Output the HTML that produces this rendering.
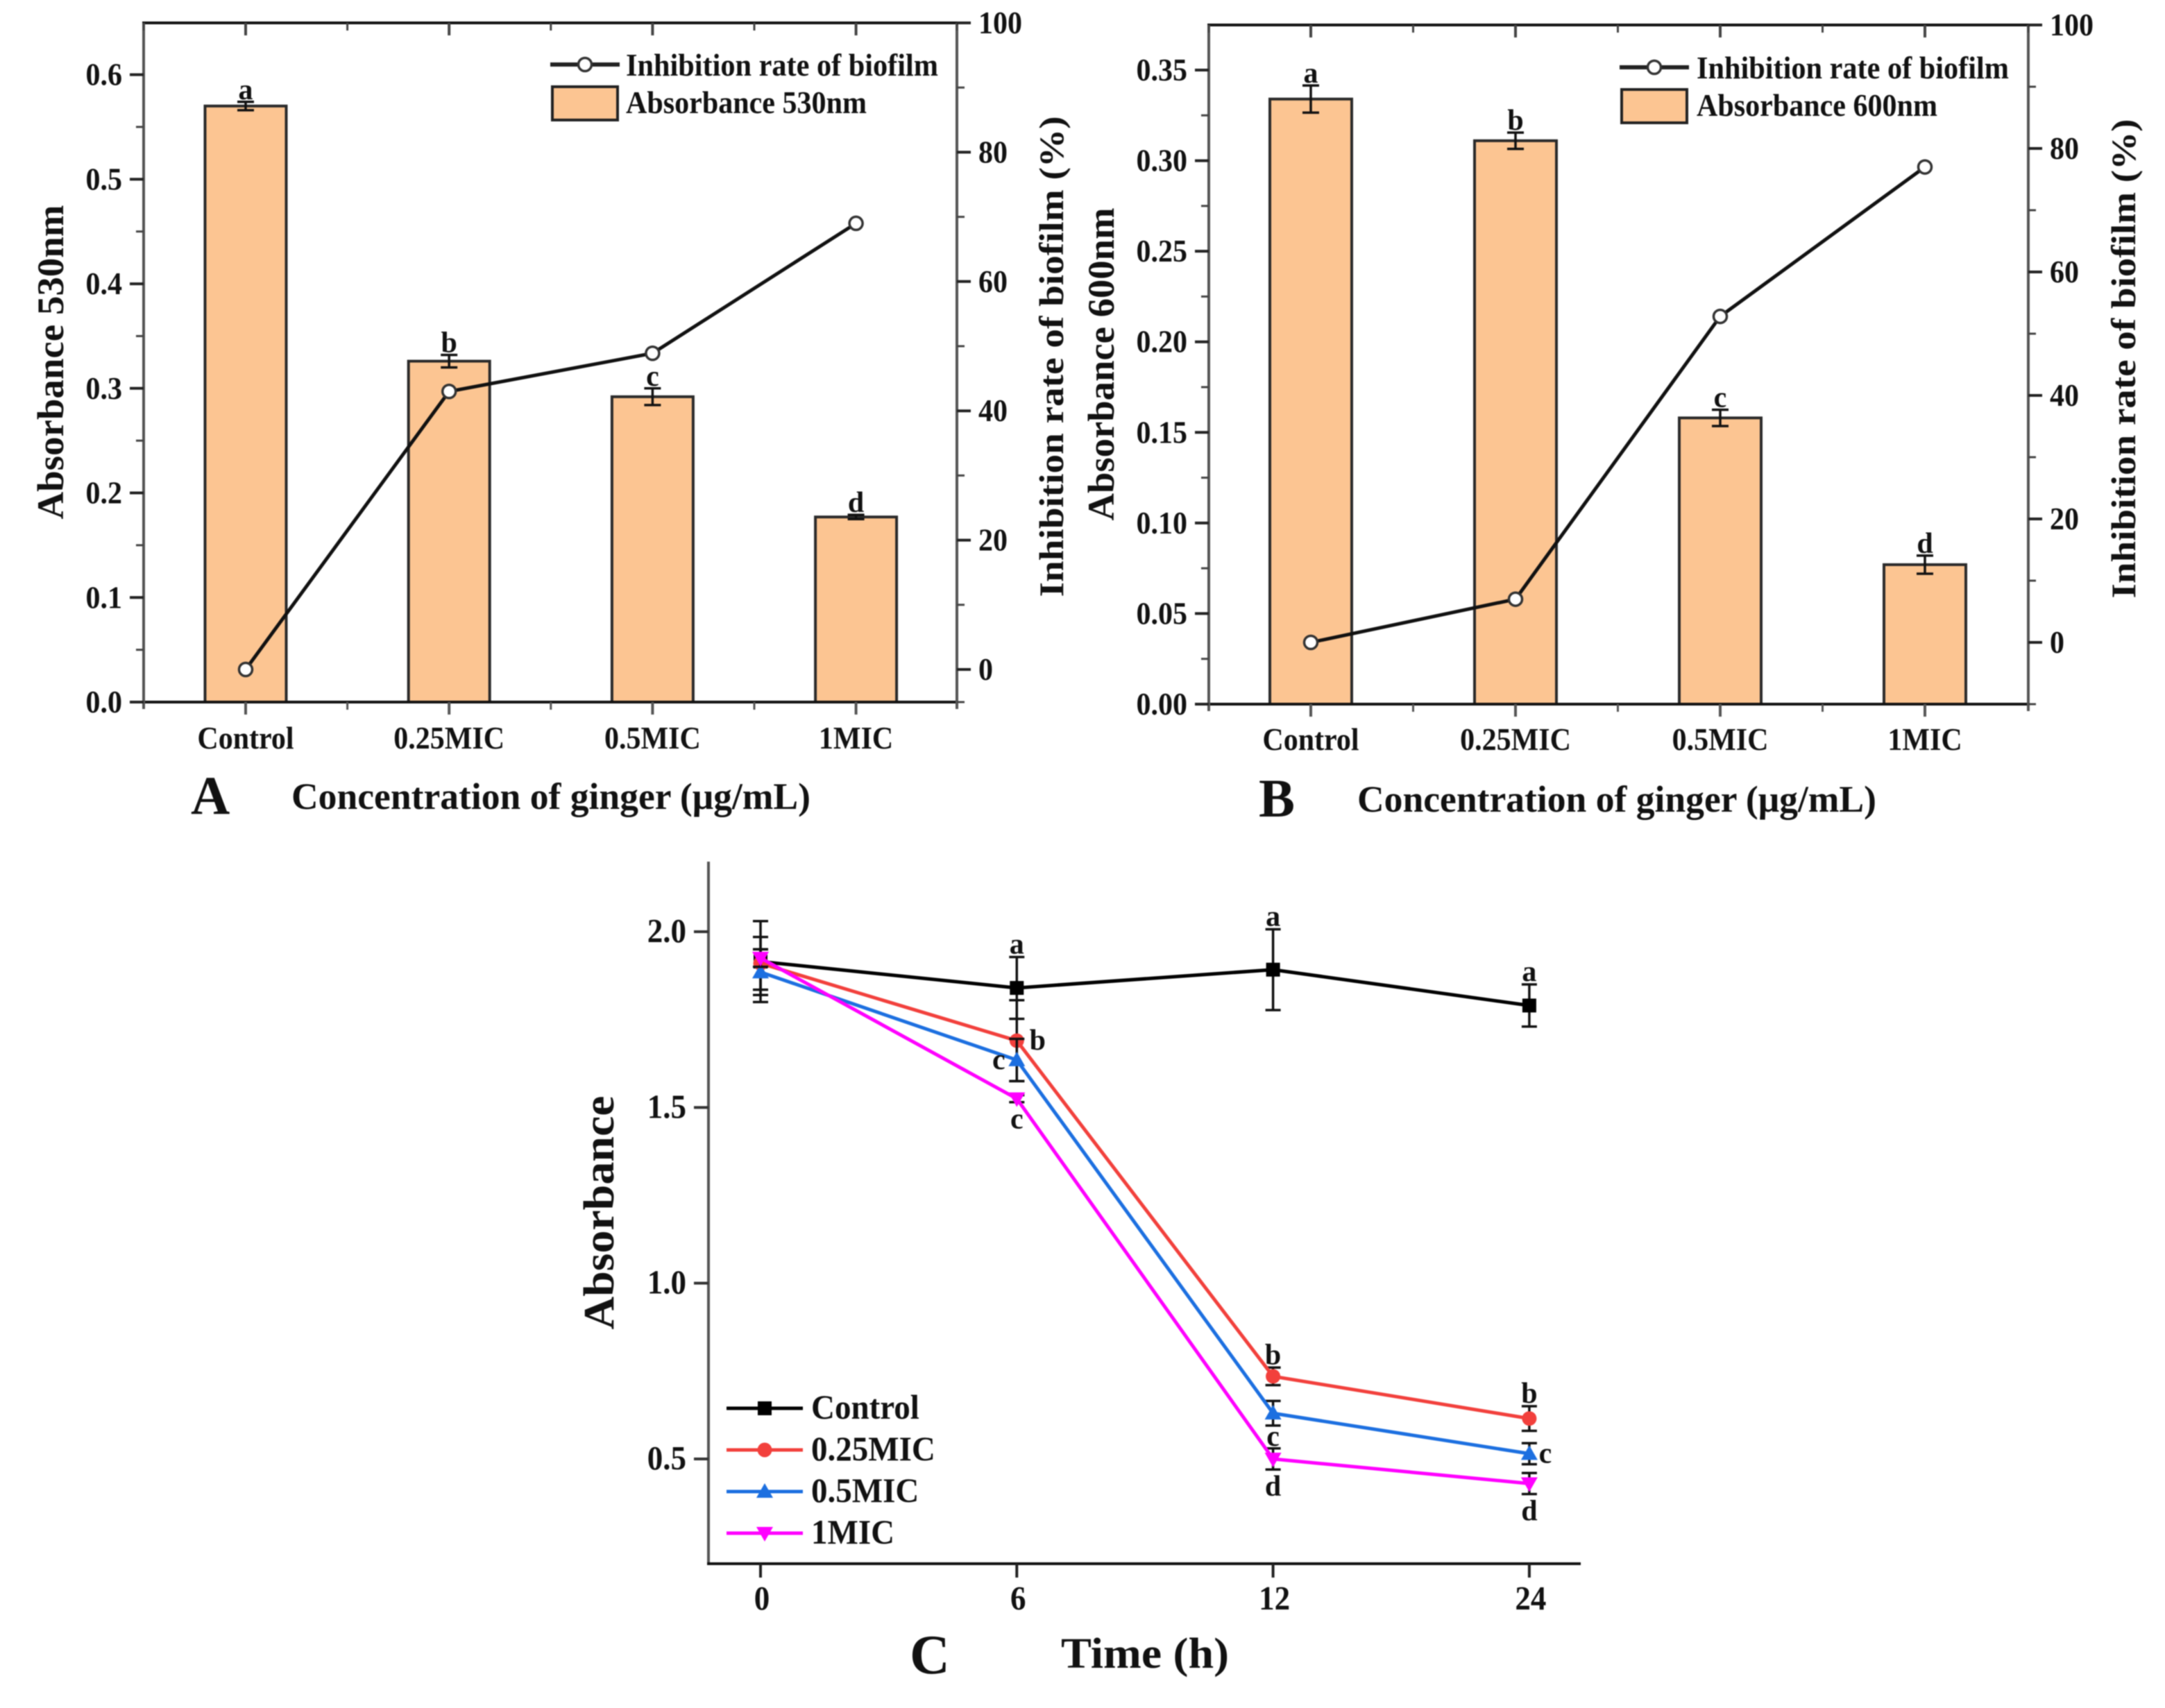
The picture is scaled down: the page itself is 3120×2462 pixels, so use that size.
<!DOCTYPE html>
<html lang="en">
<head>
<meta charset="utf-8">
<title>Ginger biofilm inhibition charts</title>
<style>
html,body{margin:0;padding:0;background:#fff;}
svg{display:block;filter:blur(0.8px);}
text{font-family:"Liberation Serif",serif;font-weight:bold;fill:#111;}
</style>
</head>
<body>
<svg id="figure" xmlns="http://www.w3.org/2000/svg" width="3120" height="2462" viewBox="0 0 3120 2462">
<rect width="3120" height="2462" fill="#fff"/>
</svg>
<script>
const categories = ['Control', '0.25MIC', '0.5MIC', '1MIC'];
const barLetters = ['a', 'b', 'c', 'd'];

const absorbance530 = [0.57, 0.326, 0.292, 0.177];
const absorbance530Err = [0.004, 0.006, 0.008, 0.002];
const inhibitionA = [0, 43, 48.9, 69];
const leftTicksA = ['0.0', '0.1', '0.2', '0.3', '0.4', '0.5', '0.6'];
const rightTicksA = ['0', '20', '40', '60', '80', '100'];

const absorbance600 = [0.334, 0.311, 0.158, 0.077];
const absorbance600Err = [0.0075, 0.0045, 0.0045, 0.005];
const inhibitionB = [0, 7, 52.8, 77];
const leftTicksB = ['0.00', '0.05', '0.10', '0.15', '0.20', '0.25', '0.30', '0.35'];
const rightTicksB = ['0', '20', '40', '60', '80', '100'];

const times = ['0', '6', '12', '24'];
const seriesNames = ['Control', '0.25MIC', '0.5MIC', '1MIC'];
const controlValues = [1.915, 1.84, 1.892, 1.79];
const controlErr = [0.115, 0.088, 0.115, 0.06];
const mic025Values = [1.91, 1.69, 0.735, 0.615];
const mic025Err = [0.075, 0.115, 0.025, 0.035];
const mic05Values = [1.885, 1.635, 0.63, 0.515];
const mic05Err = [0.065, 0.06, 0.035, 0.03];
const mic1Values = [1.925, 1.525, 0.5, 0.43];
const mic1Err = [0.025, 0.01, 0.03, 0.03];
const timeTicks = ['0.5', '1.0', '1.5', '2.0'];
const controlLetters = ['', 'a', 'a', 'a'];
const mic025Letters = ['', 'b', 'b', 'b'];
const mic05Letters = ['', 'c', 'c', 'c'];
const mic1Letters = ['', 'c', 'd', 'd'];
const mic025Sides = ['', 'right', 'top', 'top'];
const mic05Sides = ['', 'left', 'bottom', 'right'];

const svg = document.getElementById('figure');
const NS = 'http://www.w3.org/2000/svg';

function make(parent, tag, attrs, name, txt) {
  const el = document.createElementNS(NS, tag);
  for (const k in attrs) el.setAttribute(k, attrs[k]);
  
  
  if (txt !== undefined) el.textContent = txt;
  parent.appendChild(el);
  return el;
}
function seg(p, x1, y1, x2, y2, color, w, name) {
  return make(p, 'line', {x1, y1, x2, y2, stroke: color, 'stroke-width': w}, name);
}
function label(p, x, y, s, size, anchor, name, len) {
  const a = {x, y, 'font-size': size, 'text-anchor': anchor};
  if (len) { a.textLength = len; a.lengthAdjust = 'spacingAndGlyphs'; }
  return make(p, 'text', a, name, s);
}
// Taller, slightly condensed tick text: keeps the width of baseSize at the height of tallSize.
function tallLabel(p, x, y, s, baseSize, tallSize, anchor, name) {
  const el = label(p, x, y, s, tallSize, anchor, name);
  const w = el.getComputedTextLength();
  el.setAttribute('textLength', w * baseSize / tallSize);
  el.setAttribute('lengthAdjust', 'spacingAndGlyphs');
  return el;
}
function vlabel(p, x, cy, s, size, len, name) {
  return make(p, 'text', {
    x: 0, y: 0, 'font-size': size, 'text-anchor': 'middle',
    textLength: len, lengthAdjust: 'spacingAndGlyphs',
    transform: 'translate(' + x + ' ' + cy + ') rotate(-90)'
  }, name, s);
}
function linear(v0, p0, v1, p1) {
  return v => p0 + (v - v0) * (p1 - p0) / (v1 - v0);
}

function barPanel(o) {
  const g = make(svg, 'g', {}, 'panel-' + o.id);
  const x = i => o.xFirst + i * o.xStep;
  const yL = linear(0, o.bottom, o.lMax, o.lMaxY);
  const yR = linear(0, o.rZeroY, 100, o.top);

  // bars and error bars
  o.bars.forEach((v, i) => {
    make(g, 'rect', {x: x(i) - o.barW / 2, y: yL(v), width: o.barW, height: o.bottom - yL(v), fill: '#FCC592', stroke: '#2a2a2a', 'stroke-width': 4}, 'bar-' + categories[i].toLowerCase());
    const t = yL(v + o.errs[i]), b = yL(v - o.errs[i]);
    seg(g, x(i), t, x(i), b, '#111', 3.5, 'error-bar');
    seg(g, x(i) - 12, t, x(i) + 12, t, '#111', 3.5, 'error-cap-top');
    seg(g, x(i) - 12, b, x(i) + 12, b, '#111', 3.5, 'error-cap-bottom');
    label(g, x(i), t - 4, barLetters[i], 42, 'middle', 'significance-letter');
  });

  // axes
  seg(g, o.left - 2, o.bottom, o.right + 2, o.bottom, '#111', 4, 'x-axis-bottom');
  seg(g, o.left - 2, o.top, o.right + 2, o.top, '#111', 4, 'x-axis-top');
  seg(g, o.left, o.top, o.left, o.bottom + 10, '#555', 4, 'y-axis-left');
  seg(g, o.right, o.top, o.right, o.bottom + 10, '#555', 4, 'y-axis-right');

  // x ticks
  for (let i = 0; i < categories.length; i++) {
    seg(g, x(i), o.bottom, x(i), o.bottom + 18, '#555', 4, 'x-tick');
    seg(g, x(i), o.top, x(i), o.top + 18, '#444', 4, 'x-tick-top');
    tallLabel(g, x(i), o.catBase, categories[i], 42, 46, 'middle', 'x-tick-label');
    if (i < categories.length - 1) {
      seg(g, x(i) + o.xStep / 2, o.bottom, x(i) + o.xStep / 2, o.bottom + 11, '#555', 3, 'x-minor-tick');
      seg(g, x(i) + o.xStep / 2, o.top, x(i) + o.xStep / 2, o.top + 11, '#444', 3, 'x-minor-tick-top');
    }
  }
  seg(g, o.left, o.top, o.left, o.top + 11, '#444', 3, 'x-minor-tick-top');
  seg(g, o.right, o.top, o.right, o.top + 11, '#444', 3, 'x-minor-tick-top');

  // left ticks
  o.lTicks.forEach(t => {
    const v = parseFloat(t);
    seg(g, o.left - 20, yL(v), o.left, yL(v), '#222', 4, 'y-left-tick');
    tallLabel(g, o.left - 31, yL(v) + 15, t, 42, 46, 'end', 'y-left-tick-label');
    const mv = v + o.lMinor;
    if (mv < o.lMax + o.lMinor) seg(g, o.left - 11, yL(mv), o.left, yL(mv), '#444', 3, 'y-left-minor-tick');
  });

  // right ticks
  o.rTicks.forEach(t => {
    const v = parseFloat(t);
    seg(g, o.right, yR(v), o.right + 20, yR(v), '#222', 4, 'y-right-tick');
    tallLabel(g, o.right + 31, yR(v) + 15, t, 42, 46, 'start', 'y-right-tick-label');
    if (v < 100) seg(g, o.right, yR(v + 10), o.right + 11, yR(v + 10), '#444', 3, 'y-right-minor-tick');
  });
  seg(g, o.right, o.bottom, o.right + 11, o.bottom, '#444', 3, 'y-right-minor-tick');

  // inhibition line
  const pts = o.line.map((v, i) => x(i) + ',' + yR(v)).join(' ');
  make(g, 'polyline', {points: pts, fill: 'none', stroke: '#111', 'stroke-width': 5}, 'inhibition-line');
  o.line.forEach((v, i) => {
    make(g, 'circle', {cx: x(i), cy: yR(v), r: 9.5, fill: '#fff', stroke: '#333', 'stroke-width': 3.5}, 'inhibition-point');
  });

  // legend
  seg(g, o.legX - 3, o.legLineY, o.legX + 97, o.legLineY, '#222', 6, 'legend-line-sample');
  make(g, 'circle', {cx: o.legX + 47, cy: o.legLineY, r: 9.5, fill: '#fff', stroke: '#333', 'stroke-width': 3.5}, 'legend-marker');
  label(g, o.legTextX, o.legLineY + 16, 'Inhibition rate of biofilm', 46, 'start', 'legend-entry-inhibition', 450);
  make(g, 'rect', {x: o.legX, y: o.legLineY + 32, width: 94, height: 48, fill: '#FCC592', stroke: '#222', 'stroke-width': 4}, 'legend-swatch');
  label(g, o.legTextX, o.legLineY + 70, o.barName, 46, 'start', 'legend-entry-absorbance', 347);

  // titles
  vlabel(g, o.lTitleX, o.lTitleY, o.barName, 54, o.lTitleLen, 'y-axis-title-left');
  vlabel(g, o.rTitleX, o.rTitleY, 'Inhibition rate of biofilm (%)', 50, o.rTitleLen, 'y-axis-title-right');
  label(g, o.xTitleX, o.xTitleBase, 'Concentration of ginger (\u03bcg/mL)', 54, 'start', 'x-axis-title', 748);
  label(g, o.tagX, o.tagBase, o.id.toUpperCase(), 78, 'start', 'panel-label');
}

barPanel({
  id: 'a', barName: 'Absorbance 530nm', bars: absorbance530, errs: absorbance530Err, line: inhibitionA,
  lTicks: leftTicksA, rTicks: rightTicksA, left: 207, right: 1379, top: 33, bottom: 1012,
  xFirst: 354, xStep: 293.2, barW: 117, lMax: 0.6, lMaxY: 107.6, lMinor: 0.05, rZeroY: 965,
  catBase: 1079, legX: 796, legLineY: 93, legTextX: 902,
  lTitleX: 91, lTitleY: 522, lTitleLen: 453, rTitleX: 1532, rTitleY: 514, rTitleLen: 693,
  xTitleX: 420, xTitleBase: 1166, tagX: 275, tagBase: 1173
});

barPanel({
  id: 'b', barName: 'Absorbance 600nm', bars: absorbance600, errs: absorbance600Err, line: inhibitionB,
  lTicks: leftTicksB, rTicks: rightTicksB, left: 1742, right: 2923, top: 36, bottom: 1015,
  xFirst: 1889, xStep: 295, barW: 118, lMax: 0.35, lMaxY: 101, lMinor: 0.025, rZeroY: 926,
  catBase: 1081, legX: 2337, legLineY: 97, legTextX: 2445,
  lTitleX: 1605, lTitleY: 525, lTitleLen: 451, rTitleX: 3077, rTitleY: 517, rTitleLen: 691,
  xTitleX: 1956, xTitleBase: 1170, tagX: 1814, tagBase: 1177
});

// Panel C
const gc = make(svg, 'g', {}, 'panel-c');
const xC = i => 1096 + i * 369.3;
const yC = linear(0.5, 2103, 2.0, 1343);

seg(gc, 1021, 1242, 1021, 2256, '#555', 4, 'y-axis');
seg(gc, 1019, 2254, 2278, 2254, '#111', 4, 'x-axis');

timeTicks.forEach(t => {
  const v = parseFloat(t);
  seg(gc, 1000, yC(v), 1021, yC(v), '#333', 4, 'y-tick');
  tallLabel(gc, 989, yC(v) + 15, t, 45, 49, 'end', 'y-tick-label');
});
times.forEach((t, i) => {
  seg(gc, xC(i), 2254, xC(i), 2274, '#222', 4, 'x-tick');
  tallLabel(gc, xC(i) + 2, 2320, t, 45, 49, 'middle', 'x-tick-label');
});

function marker(p, shape, cx, cy, color, name) {
  if (shape === 'square') {
    make(p, 'rect', {x: cx - 10, y: cy - 10, width: 20, height: 20, fill: color}, name);
  } else if (shape === 'circle') {
    make(p, 'circle', {cx, cy, r: 10.5, fill: color}, name);
  } else if (shape === 'up') {
    make(p, 'polygon', {points: [cx, cy - 12, cx + 12, cy + 9, cx - 12, cy + 9].join(','), fill: color}, name);
  } else {
    make(p, 'polygon', {points: [cx, cy + 12, cx + 12, cy - 9, cx - 12, cy - 9].join(','), fill: color}, name);
  }
}

function drawSeries(values, errs, color, shape, letters, sides, defaultSide, name) {
  const g = make(gc, 'g', {}, 'series-' + name);
  values.forEach((v, i) => {
    const t = yC(v + errs[i]), b = yC(v - errs[i]);
    seg(g, xC(i), t, xC(i), b, '#111', 3.5, 'error-bar');
    seg(g, xC(i) - 11, t, xC(i) + 11, t, '#111', 3.5, 'error-cap-top');
    seg(g, xC(i) - 11, b, xC(i) + 11, b, '#111', 3.5, 'error-cap-bottom');
  });
  const pts = values.map((v, i) => xC(i) + ',' + yC(v)).join(' ');
  make(g, 'polyline', {points: pts, fill: 'none', stroke: color, 'stroke-width': 5}, 'line-' + name);
  values.forEach((v, i) => {
    marker(g, shape, xC(i), yC(v), color, 'point-' + name);
    const s = (sides && sides[i]) || defaultSide;
    if (!letters[i]) return;
    let lx = xC(i), ly;
    if (s === 'top') ly = yC(v + errs[i]) - 5;
    else if (s === 'bottom') ly = yC(v - errs[i]) + (name === '05mic' ? 29 : 38);
    else if (s === 'right') { lx += (name === '025mic' ? 30 : 23); ly = yC(v) + 13; }
    else { lx -= 26; ly = yC(v) + 13; }
    label(g, lx, ly, letters[i], 42, 'middle', 'significance-letter');
  });
}

drawSeries(controlValues, controlErr, '#000000', 'square', controlLetters, null, 'top', 'control');
drawSeries(mic025Values, mic025Err, '#F2403C', 'circle', mic025Letters, mic025Sides, 'top', '025mic');
drawSeries(mic05Values, mic05Err, '#1C6FE0', 'up', mic05Letters, mic05Sides, 'top', '05mic');
drawSeries(mic1Values, mic1Err, '#FF00FF', 'down', mic1Letters, null, 'bottom', '1mic');

const legendColors = ['#000000', '#F2403C', '#1C6FE0', '#FF00FF'];
const legendShapes = ['square', 'circle', 'up', 'down'];
seriesNames.forEach((n, i) => {
  const ly = 2030 + i * 60;
  seg(gc, 1047, ly, 1157, ly, legendColors[i], 5, 'legend-line-sample');
  marker(gc, legendShapes[i], 1102, ly, legendColors[i], 'legend-marker');
  tallLabel(gc, 1169, ly + 15, n, 47, 50, 'start', 'legend-entry');
});

vlabel(gc, 884, 1748, 'Absorbance', 62, 337, 'y-axis-title');
label(gc, 1529, 2404, 'Time (h)', 62, 'start', 'x-axis-title', 242);
label(gc, 1311, 2412, 'C', 80, 'start', 'panel-label');
</script>
</body>
</html>
